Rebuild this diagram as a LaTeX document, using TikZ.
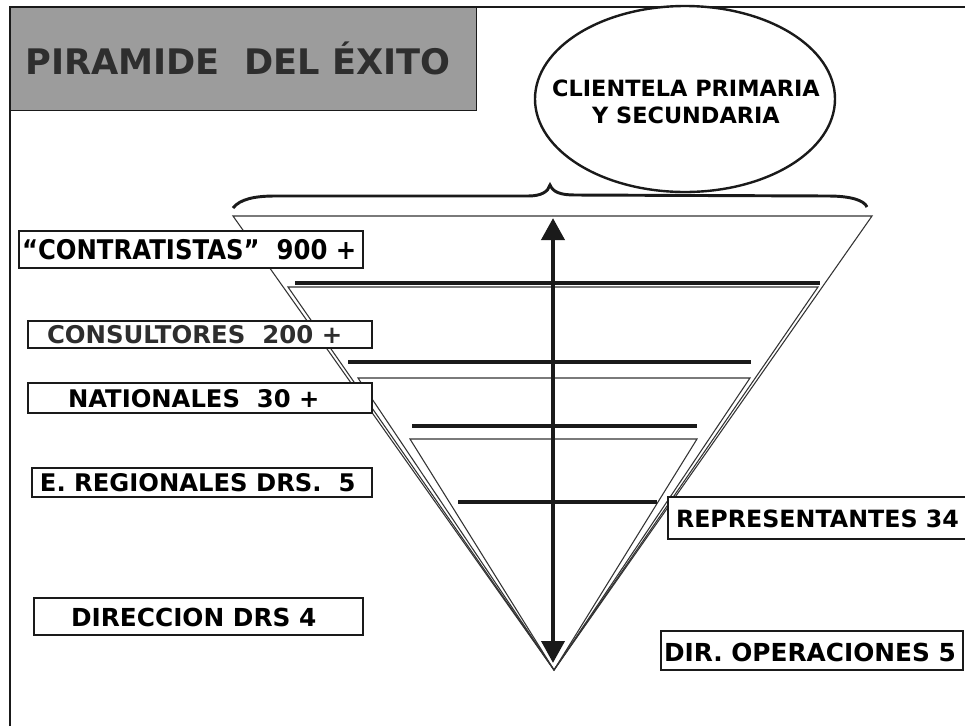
\documentclass[tikz,border=0pt]{standalone}
\usepackage{fontspec}
\setmainfont{DejaVu Sans}
\newfontfamily\narrowf{DejaVu Sans}[FakeStretch=0.9]
\usetikzlibrary{shapes.geometric,arrows.meta,calc}
\definecolor{titlegray}{HTML}{9C9C9C}
\definecolor{titletext}{HTML}{2E2E2E}
\definecolor{ink}{HTML}{1A1A1A}
\definecolor{thinline}{HTML}{333333}
\tikzset{
  lbox/.style={draw=ink, line width=0.9pt, fill=white, inner sep=0pt, outer sep=0pt, anchor=north west},
  lbl/.style={inner sep=0pt, outer sep=0pt, anchor=west, text=black, font=\bfseries\fontsize{18.2pt}{20pt}\selectfont},
  tri/.style={draw=thinline, line width=0.8pt},
  bar/.style={draw=ink, line width=3.2pt},
  bigarrow/.style={draw=ink, line width=3.6pt, {Triangle[length=16.5pt,width=17pt]}-{Triangle[length=16.5pt,width=17pt]}}
}
\begin{document}
\begin{tikzpicture}[x=0.75pt,y=-0.75pt]
\useasboundingbox (0,0) rectangle (965,726);
\fill[white] (0,0) rectangle (965,726);

% frame
\draw[ink, line width=1.1pt] (10,726) -- (10,7) -- (965,7);

% title
\node[draw=ink, line width=1pt, fill=titlegray, anchor=north west, inner sep=0pt,
      minimum width=349.5pt, minimum height=77.25pt] (tbox) at (10,7) {};
\node[inner sep=0pt, anchor=west, text=titletext,
      font=\bfseries\fontsize{26.4pt}{30pt}\selectfont] (title) at (25,58) {PIRAMIDE\ \ DEL ÉXITO};

% nested triangles (apex shared)
\coordinate (apex) at (554,670);
\draw[tri] (233,216) -- (872,216) -- (apex) -- cycle;
\draw[tri] (288,287) -- (818,287) -- (apex) -- cycle;
\draw[tri] (358,378) -- (750,378) -- (apex) -- cycle;
\draw[tri] (410,439) -- (697,439) -- (apex) -- cycle;

% thick level lines
\draw[bar, line width=3.6pt] (295,283) -- (820,283);
\draw[bar] (348,362) -- (751,362);
\draw[bar] (412,426) -- (697,426);
\draw[bar] (458,502) -- (657,502);

% brace
\draw[ink, line width=2.2pt] (233,208) .. controls (240,199) and (255,196) .. (275,196)
  -- (528,196) .. controls (541,196) and (548,192) .. (550,185)
  .. controls (553,192) and (560,195) .. (575,195)
  -- (828,196) .. controls (850,196) and (864,200) .. (867,207);

% ellipse
\node[ellipse, draw=ink, line width=1.8pt, fill=white, minimum width=225pt, minimum height=139.5pt,
      inner sep=0pt] (cli) at (685,99) {};
\node[align=center, inner sep=0pt, font=\bfseries\fontsize{16.8pt}{20.3pt}\selectfont] (clitext) at (686,102)
  {CLIENTELA PRIMARIA\\Y SECUNDARIA};

% vertical arrow
\coordinate (atop) at (553,218);
\coordinate (abot) at (553,663);
\draw[bigarrow] (abot) -- (atop);

% label boxes
\node[lbox, minimum width=258pt, minimum height=27.75pt] (b1) at (19,231) {};
\node[lbl, font=\narrowf\bfseries\fontsize{20.3pt}{22pt}\selectfont] (t1) at (22,249.5) {“CONTRATISTAS”\ \ 900 +};

\node[lbox, minimum width=258pt, minimum height=20.25pt] (b2) at (28,321) {};
\node[lbl, text=titletext, font=\bfseries\fontsize{18.3pt}{20pt}\selectfont] (t2) at (47,335) {CONSULTORES\ \ 200 +};

\node[lbox, minimum width=258pt, minimum height=22.5pt] (b3) at (28,383) {};
\node[lbl] (t3) at (68,399) {NATIONALES\ \ 30 +};

\node[lbox, minimum width=255pt, minimum height=21.75pt] (b4) at (32,468) {};
\node[lbl] (t4) at (40,482.5) {E. REGIONALES DRS.\ \ 5};

\node[lbox, minimum width=246.75pt, minimum height=27.75pt] (b5) at (34,598) {};
\node[lbl, font=\bfseries\fontsize{18.6pt}{20pt}\selectfont] (t5) at (71,617) {DIRECCION DRS 4};

\node[lbox, minimum width=230.25pt, minimum height=31.5pt] (b6) at (668,497) {};
\node[lbl, font=\bfseries\fontsize{17.8pt}{20pt}\selectfont] (t6) at (676,519) {REPRESENTANTES 34};

\node[lbox, minimum width=226.5pt, minimum height=29.25pt] (b7) at (661,631) {};
\node[lbl, font=\bfseries\fontsize{18.6pt}{20pt}\selectfont] (t7) at (664,652) {DIR. OPERACIONES 5};
\end{tikzpicture}
\end{document}
